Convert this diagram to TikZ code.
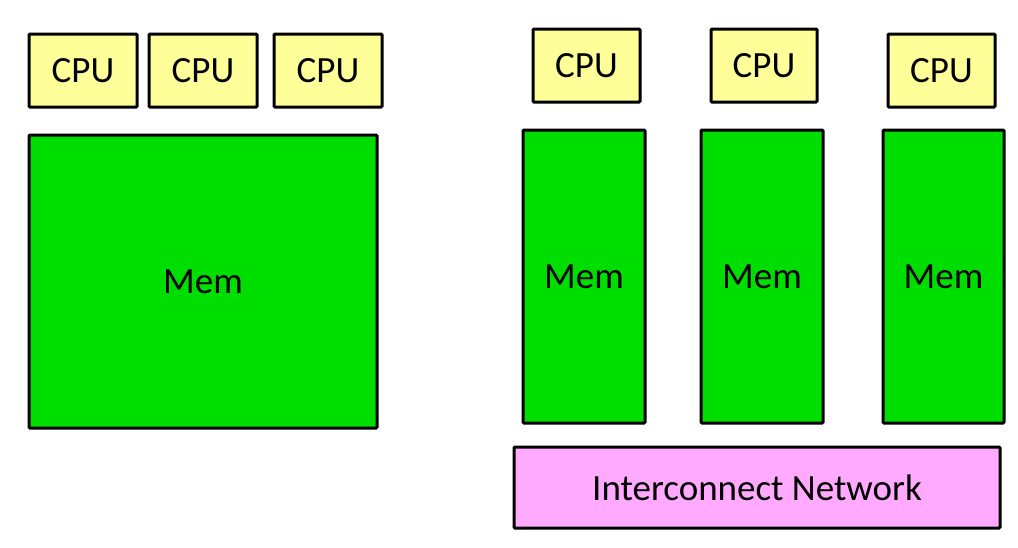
\documentclass[tikz,border=0pt]{standalone}
\usepackage{fontspec}
\setmainfont{Carlito}
\definecolor{cpuyellow}{RGB}{255,255,153}
\definecolor{memgreen}{RGB}{0,221,0}
\definecolor{netpink}{RGB}{255,170,255}
\begin{document}
\begin{tikzpicture}[x=1pt,y=-1pt,
  box/.style={draw=black,line width=3pt,rounded corners=1pt,font=\fontsize{37}{44}\selectfont},
  cpubox/.style={box,fill=cpuyellow},
  membox/.style={box,fill=memgreen},
  netbox/.style={box,fill=netpink}]
\useasboundingbox (0,0) rectangle (1018,547);
% left: shared memory
\draw[cpubox] (29,34) rectangle (137,107) node[midway] (c1) {CPU};
\draw[cpubox] (149,34) rectangle (257,107) node[midway] (c2) {CPU};
\draw[cpubox] (274,34) rectangle (382,107) node[midway] (c3) {CPU};
\draw[membox] (29,135) rectangle (377,428) node[midway] (m0) {Mem};
% right: distributed memory
\draw[cpubox] (533,29) rectangle (640,102) node[midway] (c4) {CPU};
\draw[cpubox] (711,29) rectangle (817,102) node[midway] (c5) {CPU};
\draw[cpubox] (888,34) rectangle (995,107) node[midway] (c6) {CPU};
\draw[membox] (523,130) rectangle (645,423) node[midway] (m1) {Mem};
\draw[membox] (701,130) rectangle (823,423) node[midway] (m2) {Mem};
\draw[membox] (883,130) rectangle (1004,423) node[midway] (m3) {Mem};
\draw[netbox] (514,447) rectangle (1000,528) node[midway] (net) {Interconnect Network};
\end{tikzpicture}
\end{document}
